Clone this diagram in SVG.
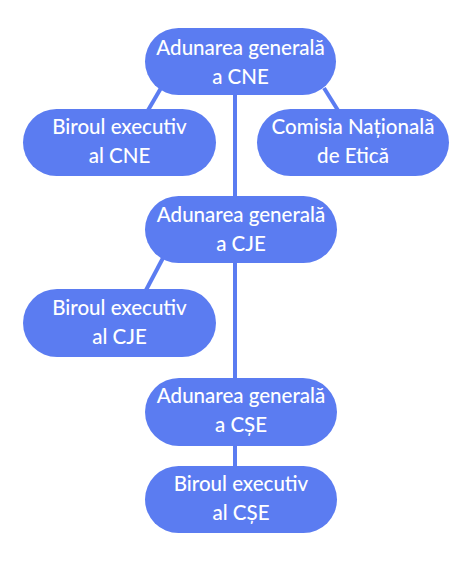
<svg xmlns="http://www.w3.org/2000/svg" width="474" height="561" viewBox="0 0 474 561">
<style>
.n{fill:#5b7cf1}
.t{fill:#ffffff;font-family:Lato,"Open Sans",sans-serif;font-size:20.5px;font-weight:500;text-anchor:middle}
.c{stroke:#5b7cf1;stroke-width:4;fill:none;stroke-linecap:butt}
</style>
<rect width="474" height="561" fill="#ffffff"/>
<g id="connectors">
<line class="c" x1="235" y1="90" x2="235" y2="380"/>
<line class="c" x1="235" y1="440" x2="235" y2="470"/>
<line class="c" x1="161" y1="88" x2="147" y2="112"/>
<line class="c" x1="324" y1="88" x2="339" y2="112"/>
<line class="c" x1="163" y1="258" x2="145" y2="292"/>
</g>
<g id="n1"><rect class="n" x="145" y="28" width="191" height="67" rx="33.5"/><text class="t" x="240.5" y="55">Adunarea generală</text><text class="t" x="240.5" y="84">a CNE</text></g>
<g id="n2"><rect class="n" x="23" y="109" width="193" height="67" rx="33.5"/><text class="t" x="119.5" y="134">Biroul executiv</text><text class="t" x="119.5" y="163">al CNE</text></g>
<g id="n3"><rect class="n" x="257" y="109" width="192" height="67" rx="33.5"/><text class="t" x="353" y="134">Comisia Națională</text><text class="t" x="353" y="163">de Etică</text></g>
<g id="n4"><rect class="n" x="145" y="196" width="192" height="67" rx="33.5"/><text class="t" x="241" y="222">Adunarea generală</text><text class="t" x="241" y="251">a CJE</text></g>
<g id="n5"><rect class="n" x="23" y="289" width="193" height="68" rx="34"/><text class="t" x="119.5" y="315">Biroul executiv</text><text class="t" x="119.5" y="344">al CJE</text></g>
<g id="n6"><rect class="n" x="145" y="378" width="192" height="68" rx="34"/><text class="t" x="241" y="403">Adunarea generală</text><text class="t" x="241" y="432">a CȘE</text></g>
<g id="n7"><rect class="n" x="145" y="466" width="192" height="67" rx="33.5"/><text class="t" x="241" y="491">Biroul executiv</text><text class="t" x="241" y="520">al CȘE</text></g>
</svg>
